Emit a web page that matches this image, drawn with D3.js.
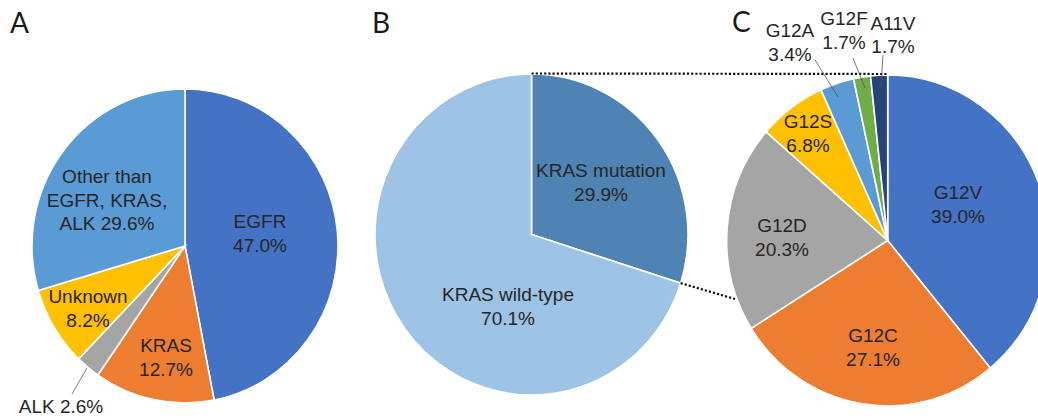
<!DOCTYPE html>
<html>
<head>
<meta charset="utf-8">
<script src="https://cdn.jsdelivr.net/npm/d3@7"></script>
<style>
  html, body { margin: 0; padding: 0; background: #fff; }
  svg { display: block; }
  .lbl { font-family: "Liberation Sans", Arial, sans-serif; font-size: 19px; fill: #262626; text-anchor: middle; }
  .panel { font-family: Lato, "Open Sans", sans-serif; font-size: 28px; fill: #1a1a1a; }
</style>
</head>
<body>
<script>
// Panel A: driver mutation status
const driverCategories = ["EGFR", "KRAS", "ALK", "Unknown", "Other than EGFR, KRAS, ALK"];
const driverValues = [47.0, 12.7, 2.6, 8.2, 29.6];
const driverColors = ["#4472C4", "#ED7D31", "#A5A5A5", "#FFC000", "#5B9BD5"];

// Panel B: KRAS status
const krasCategories = ["KRAS mutation", "KRAS wild-type"];
const krasValues = [29.9, 70.1];
const krasColors = ["#4E83B3", "#9DC3E6"];

// Panel C: KRAS mutation subtypes
const subtypeCategories = ["G12V", "G12C", "G12D", "G12S", "G12A", "G12F", "A11V"];
const subtypeValues = [39.0, 27.1, 20.3, 6.8, 3.4, 1.7, 1.7];
const subtypeColors = ["#4472C4", "#ED7D31", "#A5A5A5", "#FFC000", "#5B9BD5", "#70AD47", "#264478"];

const W = 1038, H = 419;
const svg = d3.select("body").append("svg").attr("width", W).attr("height", H);

const fmt = v => v.toFixed(1) + "%";

// Draws a clockwise pie starting at 12 o'clock; rx/ry allow a slightly oval disc.
function drawPie(cx, cy, rx, ry, values, colors) {
  const pie = d3.pie().sort(null).value(d => d);
  const arcs = pie(values);
  const arc = d3.arc().innerRadius(0).outerRadius(rx);
  const g = svg.append("g")
    .attr("transform", `translate(${cx},${cy}) scale(1,${ry / rx})`);
  g.selectAll("path").data(arcs).join("path")
    .attr("d", arc)
    .attr("fill", (d, i) => colors[i])
    .attr("stroke", "#fff")
    .attr("stroke-width", 1.6)
    .attr("vector-effect", "non-scaling-stroke");
  return arcs;
}

// point on the oval rim at angle a (radians, clockwise from 12 o'clock)
const rim = (cx, cy, rx, ry, a) => [cx + rx * Math.sin(a), cy - ry * Math.cos(a)];

function label(lines, x, y0, step = 24) {
  const t = svg.append("text").attr("class", "lbl").attr("x", x).attr("y", y0);
  lines.forEach((s, i) => {
    t.append("tspan").attr("x", x).attr("y", y0 + i * step).text(s);
  });
}

function leader(x1, y1, x2, y2) {
  svg.append("line").attr("x1", x1).attr("y1", y1).attr("x2", x2).attr("y2", y2)
    .attr("stroke", "#555").attr("stroke-width", 0.8);
}

// ---- Pie geometry
const A = { cx: 185, cy: 246, rx: 153, ry: 157 };
const B = { cx: 531.5, cy: 234.5, rx: 156.5, ry: 160.5 };
const C = { cx: 887.7, cy: 240.5, rx: 161, ry: 165.5 };

drawPie(A.cx, A.cy, A.rx, A.ry, driverValues, driverColors);
const bArcs = drawPie(B.cx, B.cy, B.rx, B.ry, krasValues, krasColors);
const cArcs = drawPie(C.cx, C.cy, C.rx, C.ry, subtypeValues, subtypeColors);

// ---- Dotted connectors from the KRAS mutation slice to the subtype pie
const bTop = rim(B.cx, B.cy, B.rx, B.ry, bArcs[0].startAngle);
const bEnd = rim(B.cx, B.cy, B.rx, B.ry, bArcs[0].endAngle);
const cTop = rim(C.cx, C.cy, C.rx, C.ry, 0);
const dotted = { stroke: "#111", "stroke-width": 2.2, "stroke-dasharray": "2.2 2" };
const conn = [
  [bTop[0], bTop[1] - 0.5, cTop[0], cTop[1] - 1],
  [bEnd[0], bEnd[1], 735, 299]
];
conn.forEach(c => {
  const l = svg.append("line").attr("x1", c[0]).attr("y1", c[1]).attr("x2", c[2]).attr("y2", c[3]);
  Object.entries(dotted).forEach(([k, v]) => l.attr(k, v));
});

// ---- Panel letters
svg.append("text").attr("class", "panel").attr("x", 10).attr("y", 33).text("A");
svg.append("text").attr("class", "panel").attr("x", 372).attr("y", 33).text("B");
svg.append("text").attr("class", "panel").attr("x", 732).attr("y", 32).text("C");

// ---- Panel A labels
label(["Other than", "EGFR, KRAS,", "ALK " + fmt(driverValues[4])], 107, 183, 23.5);
label([driverCategories[0], fmt(driverValues[0])], 260, 228);
label([driverCategories[3], fmt(driverValues[3])], 88, 303);
label([driverCategories[1], fmt(driverValues[1])], 166, 352);
label([driverCategories[2] + " " + fmt(driverValues[2])], 61, 413);
leader(87, 368, 72, 394);

// ---- Panel B labels
label([krasCategories[0], fmt(krasValues[0])], 601, 177);
label([krasCategories[1], fmt(krasValues[1])], 508, 301);

// ---- Panel C labels
label([subtypeCategories[0], fmt(subtypeValues[0])], 958, 199);
label([subtypeCategories[1], fmt(subtypeValues[1])], 873, 342);
label([subtypeCategories[2], fmt(subtypeValues[2])], 782, 232);
label([subtypeCategories[3], fmt(subtypeValues[3])], 808, 128);
label([subtypeCategories[4], fmt(subtypeValues[4])], 790, 37);
label([subtypeCategories[5], fmt(subtypeValues[5])], 844, 25);
label([subtypeCategories[6], fmt(subtypeValues[6])], 893, 30, 23);
leader(815, 60, 838, 97);
leader(853, 58, 865, 88);
leader(883, 55, 881, 87);
</script>
</body>
</html>
